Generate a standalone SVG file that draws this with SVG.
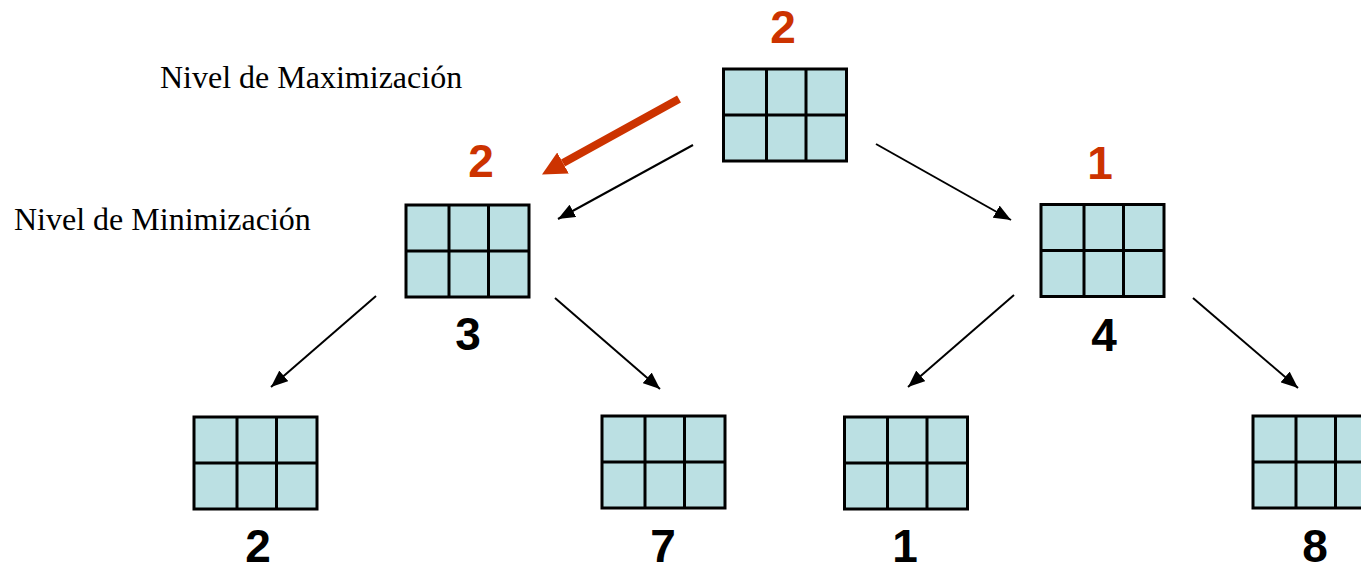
<svg xmlns="http://www.w3.org/2000/svg" xmlns:xlink="http://www.w3.org/1999/xlink" width="1361" height="564" viewBox="0 0 1361 564">
<style>
.cell{fill:#BBE0E3;stroke:#000;stroke-width:3}
.grid{stroke:#000;stroke-width:3;fill:none}
.val{font-family:"Liberation Sans",Arial,sans-serif;font-weight:bold;font-size:46px;text-anchor:middle;fill:#000}
.red{fill:#CC3300}
.lvl{font-family:"Liberation Serif","Times New Roman",serif;font-size:32px;fill:#000}
.conn{stroke:#000;stroke-width:2;fill:none;marker-end:url(#ah)}
</style>
<defs>
<marker id="ah" markerUnits="userSpaceOnUse" markerWidth="17" markerHeight="14" refX="17" refY="7" orient="auto" viewBox="0 0 17 14">
<path d="M0,0 L17,7 L0,14 z" fill="#000"/>
</marker>
<marker id="rah" markerUnits="userSpaceOnUse" markerWidth="24" markerHeight="24" refX="0" refY="12" orient="auto" viewBox="0 0 24 24">
<path d="M0,0 L24,12 L0,24 z" fill="#CC3300"/>
</marker>
<g id="board">
<rect class="cell" x="0" y="0" width="123" height="92"/>
<path class="grid" d="M43,0 V92 M82.5,0 V92 M0,46 H123"/>
</g>
</defs>
<rect width="1361" height="564" fill="#fff"/>
<text class="lvl" x="160" y="88">Nivel de Maximización</text>
<text class="lvl" x="14" y="230">Nivel de Minimización</text>
<g id="connectors">
<path class="conn" d="M693,145 L558,219"/>
<path class="conn" d="M876,144 L1011,220"/>
<path class="conn" d="M376,296 L271,387"/>
<path class="conn" d="M555,298 L660,389"/>
<path class="conn" d="M1014,295 L908,387"/>
<path class="conn" d="M1193,298 L1298,388"/>
<path d="M679,99 L563,163" stroke="#CC3300" stroke-width="8" fill="none" marker-end="url(#rah)"/>
</g>
<g id="root"><use xlink:href="#board" x="723.5" y="69"/><text class="val red" x="783" y="43">2</text></g>
<g id="min-left"><use xlink:href="#board" x="406" y="205"/><text class="val red" x="481" y="177">2</text><text class="val" x="468" y="350">3</text></g>
<g id="min-right"><use xlink:href="#board" x="1041" y="204.5"/><text class="val red" x="1100" y="179">1</text><text class="val" x="1104" y="351">4</text></g>
<g id="leaf-1"><use xlink:href="#board" x="194" y="417"/><text class="val" x="258" y="562">2</text></g>
<g id="leaf-2"><use xlink:href="#board" x="602" y="416"/><text class="val" x="663" y="562">7</text></g>
<g id="leaf-3"><use xlink:href="#board" x="844.5" y="417"/><text class="val" x="905" y="562">1</text></g>
<g id="leaf-4"><use xlink:href="#board" x="1253" y="416"/><text class="val" x="1315" y="562">8</text></g>
</svg>
